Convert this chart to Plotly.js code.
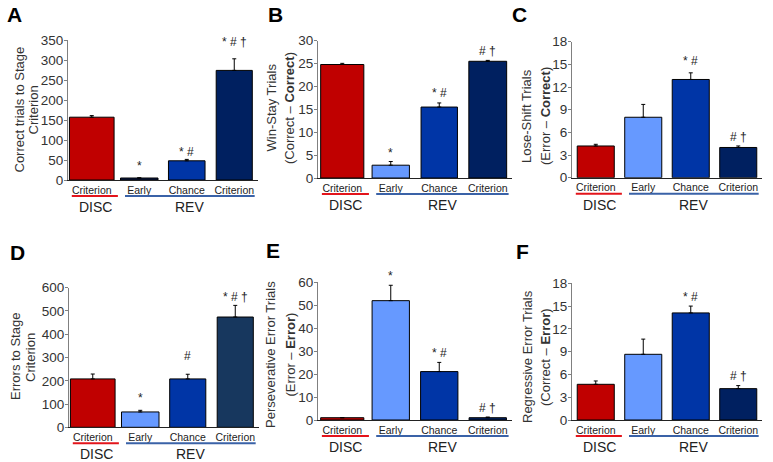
<!DOCTYPE html>
<html>
<head>
<meta charset="utf-8">
<script src="https://cdn.plot.ly/plotly-3.0.1.min.js"></script>
<style>html,body{margin:0;padding:0;background:#fff;}#chart{width:773px;height:462px;}</style>
</head>
<body>
<div id="chart"></div>
<script>
// ---- data ----
const categories = ['Criterion', 'Early', 'Chance', 'Criterion'];
const groupLabels = ['DISC', 'REV'];
const panelLetters = ['A', 'B', 'C', 'D', 'E', 'F'];

const correctTrials = [157, 5, 48, 274];
const correctTrialsErr = [4, 0.5, 3.5, 29];
const correctTrialsSig = ['', '*', '* #', '* # †'];

const winStay = [24.8, 2.8, 15.5, 25.5];
const winStayErr = [0.25, 0.8, 0.9, 0.2];
const winStaySig = ['', '*', '* #', '# †'];

const loseShift = [4.2, 8.0, 13.0, 4.0];
const loseShiftErr = [0.22, 1.7, 0.88, 0.2];
const loseShiftSig = ['', '', '* #', '# †'];

const errorsToCrit = [208, 66, 208, 474];
const errorsToCritErr = [21, 7, 20, 50];
const errorsToCritSig = ['', '*', '#', '* # †'];

const persevErr = [1.0, 52, 21.1, 1.0];
const persevErrSem = [0, 6.7, 4, 0.3];
const persevErrSig = ['', '*', '* #', '# †'];

const regressErr = [4.7, 8.65, 14.1, 4.13];
const regressErrSem = [0.44, 2.0, 0.9, 0.4];
const regressErrSig = ['', '', '* #', '# †'];

const yTitleLines = [
  ['Correct trials to Stage', 'Criterion'],
  ['Win-Stay Trials', '(Correct – <b>Correct</b>)'],
  ['Lose-Shift Trials', '(Error – <b>Correct</b>)'],
  ['Errors to Stage', 'Criterion'],
  ['Perseverative Error Trials', '(Error – <b>Error</b>)'],
  ['Regressive Error Trials', '(Correct – <b>Error</b>)']
];
const yMax = [350, 30, 18, 600, 60, 18];
const yStep = [50, 5, 3, 100, 10, 3];

// ---- styles / layout geometry (pixels) ----
const W = 773, H = 462;
const FONT = '"Liberation Sans", Arial, sans-serif';
const RED = '#C00000', LIGHT = '#6699FF', MID = '#0035A6', DARK = '#002060';
const panels = [
  {vals: correctTrials, errs: correctTrialsErr, sig: correctTrialsSig, box: [68, 258, 40, 180],
   colors: [RED, '#0B1B4A', MID, DARK], widths: [0.94, 0.79, 0.77, 0.76], sigShift: [0, 12, 7, 17],
   letter: [15, 15], titleX: [18.5, 32.5], titleY: 110},
  {vals: winStay, errs: winStayErr, sig: winStaySig, box: [318, 512, 40.7, 178],
   colors: [RED, LIGHT, MID, DARK], widths: [0.89, 0.77, 0.75, 0.78], sigShift: [0, 9, 10, 9],
   letter: [275.5, 15], titleX: [271.5, 290], titleY: 108},
  {vals: loseShift, errs: loseShiftErr, sig: loseShiftSig, box: [572, 762, 41.7, 177.7],
   colors: [RED, LIGHT, MID, DARK], widths: [0.78, 0.78, 0.78, 0.78], sigShift: [0, 0, 12, 9],
   letter: [519, 15], titleX: [527, 546], titleY: 116},
  {vals: errorsToCrit, errs: errorsToCritErr, sig: errorsToCritSig, box: [69, 259, 287.7, 427.3],
   colors: [RED, LIGHT, MID, '#17375E'], widths: [0.94, 0.79, 0.76, 0.76], sigShift: [0, 12, 18, 8],
   letter: [17.5, 252.5], titleX: [15, 30], titleY: 357},
  {vals: persevErr, errs: persevErrSem, sig: persevErrSig, box: [318, 512, 282.3, 420],
   colors: [RED, LIGHT, MID, DARK], widths: [0.89, 0.77, 0.77, 0.77], sigShift: [0, 9, 9, 9],
   letter: [273, 250.5], titleX: [270, 289.5], titleY: 355},
  {vals: regressErr, errs: regressErrSem, sig: regressErrSig, box: [572, 762, 283.3, 420],
   colors: [RED, LIGHT, MID, DARK], widths: [0.78, 0.78, 0.78, 0.78], sigShift: [0, 0, 9, 10],
   letter: [522, 251.5], titleX: [527, 545], titleY: 357}
];

const px = x => x / W;
const py = y => 1 - y / H;

const traces = [];
const layout = {
  width: W, height: H,
  margin: {l: 0, r: 0, t: 0, b: 0},
  paper_bgcolor: '#fff', plot_bgcolor: '#fff',
  showlegend: false,
  font: {family: FONT, color: '#333'},
  annotations: [], shapes: []
};

panels.forEach((p, i) => {
  const n = i + 1;
  const xa = 'x' + (n === 1 ? '' : n), ya = 'y' + (n === 1 ? '' : n);
  const xKey = 'xaxis' + (n === 1 ? '' : n), yKey = 'yaxis' + (n === 1 ? '' : n);
  const [x0, x1, yt, yb] = p.box;
  const xs = categories.map((_, k) => k);

  traces.push({
    type: 'bar', x: xs, y: p.vals, xaxis: xa, yaxis: ya,
    width: p.widths,
    marker: {color: p.colors, line: {color: '#000', width: 1}},
    error_y: {type: 'data', symmetric: false, array: p.errs, arrayminus: p.errs.map(() => 0),
              color: '#000', thickness: 1, width: 2},
    hoverinfo: 'none'
  });

  layout[xKey] = {
    domain: [px(x0), px(x1)], anchor: ya, range: [-0.5, 3.5],
    tickvals: xs, ticktext: categories, ticks: '',
    tickfont: {size: 10.5, color: '#222', family: FONT},
    showline: true, linecolor: '#222', linewidth: 1,
    showgrid: false, zeroline: false, fixedrange: true
  };
  const tv = [];
  for (let v = 0; v <= yMax[i]; v += yStep[i]) tv.push(v);
  layout[yKey] = {
    domain: [py(yb), py(yt)], anchor: xa, range: [0, yMax[i]],
    tickvals: tv, ticks: 'outside', ticklen: 3, tickcolor: '#808080', tickwidth: 1,
    ticklabelstandoff: -2,
    tickfont: {size: 13.5, color: '#333', family: FONT},
    showline: true, linecolor: '#808080', linewidth: 1,
    showgrid: false, zeroline: false, fixedrange: true
  };

  // group underlines
  layout.shapes.push({type: 'line', xref: xa, yref: 'paper', x0: -0.42, x1: 0.55,
    y0: py(yb + 16), y1: py(yb + 16), line: {color: '#E3141B', width: 2}});
  layout.shapes.push({type: 'line', xref: xa, yref: 'paper', x0: 0.7, x1: 3.43,
    y0: py(yb + 16), y1: py(yb + 16), line: {color: '#3A62A7', width: 2}});
  // group labels
  layout.annotations.push({text: groupLabels[0], xref: xa, yref: 'paper', x: 0.07, y: py(yb + 27),
    showarrow: false, xanchor: 'center', yanchor: 'middle', font: {size: 14, color: '#222', family: FONT}});
  layout.annotations.push({text: groupLabels[1], xref: xa, yref: 'paper', x: 2.06, y: py(yb + 27),
    showarrow: false, xanchor: 'center', yanchor: 'middle', font: {size: 14, color: '#222', family: FONT}});
  // significance markers
  p.sig.forEach((s, k) => {
    if (!s) return;
    layout.annotations.push({text: s, xref: xa, yref: ya, x: k, y: p.vals[k] + p.errs[k],
      showarrow: false, xanchor: 'center', yanchor: 'middle', yshift: p.sigShift[k],
      font: {size: 12, color: '#222', family: FONT}});
  });
  // panel letter
  layout.annotations.push({text: '<b>' + panelLetters[i] + '</b>', xref: 'paper', yref: 'paper',
    x: px(p.letter[0]), y: py(p.letter[1]), xanchor: 'center', yanchor: 'middle', showarrow: false,
    font: {size: 21, color: '#000', family: FONT}});
  // y title (two lines, placed separately)
  yTitleLines[i].forEach((line, k) => {
    layout.annotations.push({text: line, xref: 'paper', yref: 'paper',
      x: px(p.titleX[k]), y: py(p.titleY), xanchor: 'center', yanchor: 'middle', textangle: -90,
      showarrow: false, font: {size: 13, color: '#333', family: FONT}});
  });
});

Plotly.newPlot('chart', traces, layout, {displayModeBar: false, staticPlot: true});
</script>
</body>
</html>
